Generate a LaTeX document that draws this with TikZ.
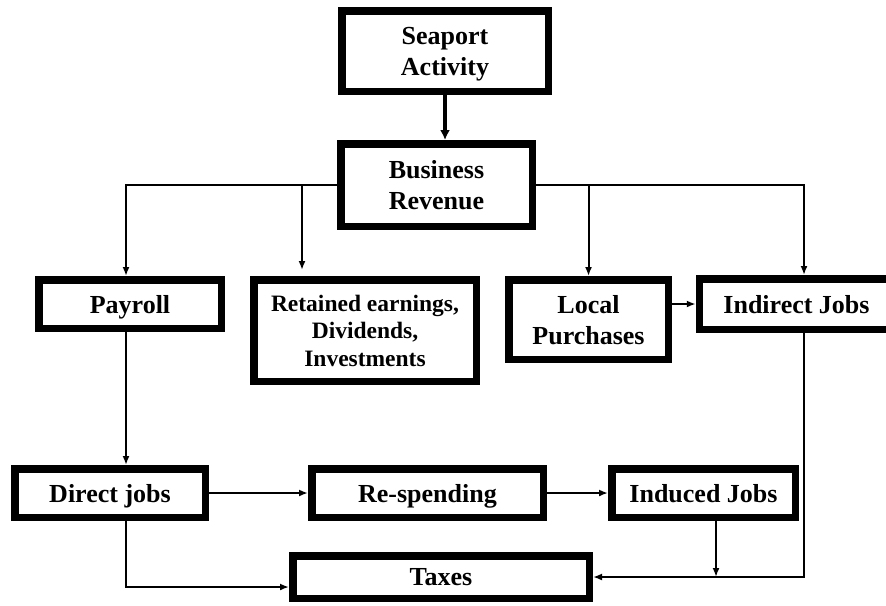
\documentclass[tikz,border=0pt]{standalone}
\usepackage{fontspec}
\setmainfont{Liberation Serif}
\usetikzlibrary{arrows.meta}
\usetikzlibrary{positioning}

\begin{document}
\begin{tikzpicture}
    [x=0.5pt, y=-0.5pt,
     box/.style={rectangle, draw=black, line width=3.75pt, inner sep=0pt, align=center, text depth=-1pt,
                 font=\fontsize{13}{15.5}\selectfont\bfseries},
     sbox/.style={box, font=\fontsize{11.75}{13.75}\selectfont\bfseries},
     ar/.style={-{Latex[length=4.5pt, width=3.5pt]}, line width=1pt},
     bar/.style={-{Latex[length=5pt, width=5pt]}, line width=2pt}]

    \clip (0,0) rectangle (886,605);

    \node [box, minimum width=103.25pt, minimum height=40.25pt] (sea) at (445,51) {Seaport\\Activity};
    \node [box, minimum width=95.75pt, minimum height=41.25pt] (bus) at (436.5,185) {Business\\Revenue};

    \node [box, minimum width=91.25pt, minimum height=24.25pt] (pay) at (130,304) {Payroll};
    \node [sbox, minimum width=111.25pt, minimum height=50.75pt] (ret) at (365,330.5) {Retained earnings,\\Dividends,\\Investments};
    \node [box, minimum width=79.75pt, minimum height=39.75pt] (loc) at (588.5,319.5) {Local\\Purchases};
    \node [box, minimum width=97pt, minimum height=25.25pt] (ind) at (796.5,304) {Indirect Jobs};

    \node [box, minimum width=95.25pt, minimum height=24.25pt] (dir) at (110,493) {Direct jobs};
    \node [box, minimum width=115.75pt, minimum height=24.25pt] (res) at (427.5,493) {Re-spending};
    \node [box, minimum width=91.75pt, minimum height=24.25pt] (idc) at (703.5,493) {Induced Jobs};
    \node [box, minimum width=148.25pt, minimum height=21.25pt] (tax) at (441,577) {Taxes};

    \draw [bar] (sea.south) -- (sea.south |- bus.north);

    \draw [ar] (bus.west) -| ([xshift=-2pt] pay.north);
    \draw [ar] ([xshift=-31.5pt] ret.north |- bus.west) -- ([xshift=-31.5pt, yshift=3pt] ret.north);
    \draw [ar] (bus.east) -| ([xshift=3.75pt] ind.north);
    \draw [ar] (loc.north |- bus.east) -- (loc.north);
    \draw [ar] (loc.east |- ind.west) -- (ind.west);

    \draw [ar] ([xshift=-2pt] pay.south) -- ([xshift=-2pt] pay.south |- dir.north);
    \draw [ar] (dir.east) -- (res.west);
    \draw [ar] (res.east) -- (idc.west);

    \draw [ar] ([xshift=8pt] dir.south) |- ([yshift=-5pt] tax.west);
    \draw [ar] ([xshift=6.25pt] idc.south) -- ([xshift=6.25pt] idc.south |- tax.east);
    \draw [ar] ([xshift=3.75pt] ind.south) |- (tax.east);
\end{tikzpicture}
\end{document}
